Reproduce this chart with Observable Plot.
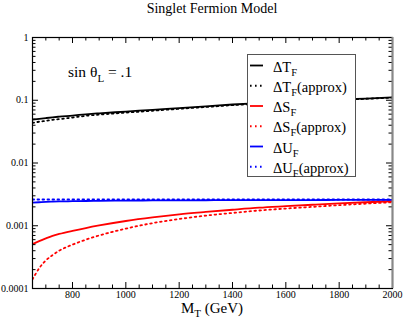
<!DOCTYPE html>
<html><head><meta charset="utf-8">
<script src="https://cdn.jsdelivr.net/npm/d3@7"></script>
<script src="https://cdn.jsdelivr.net/npm/@observablehq/plot@0.6"></script>
<style>body{margin:0;background:#fff} svg{display:block}</style>
</head><body><div id="chart"></div>
<script>
// ---- data ----
const massGrid = [650, 675, 700, 725, 750, 800, 850, 900, 1000, 1100, 1200, 1300, 1400, 1500, 1600, 1700, 1800, 1900, 2000];
const deltaT       = [0.049, 0.0505, 0.052, 0.0535, 0.0548, 0.057, 0.0597, 0.062, 0.066, 0.0705, 0.075, 0.080, 0.0855, 0.090, 0.094, 0.098, 0.102, 0.1065, 0.111];
const deltaTApprox = [0.0435, 0.0455, 0.047, 0.0488, 0.050, 0.053, 0.0565, 0.059, 0.0635, 0.068, 0.073, 0.078, 0.0835, 0.088, 0.0925, 0.097, 0.101, 0.1055, 0.110];
const deltaS       = [0.00051, 0.00057, 0.00063, 0.00069, 0.00074, 0.00083, 0.00092, 0.00101, 0.00119, 0.00136, 0.00152, 0.00166, 0.00180, 0.00194, 0.00205, 0.00216, 0.00227, 0.00237, 0.00246];
const deltaSApprox = [0.00014, 0.00021, 0.00028, 0.00034, 0.00040, 0.00050, 0.00060, 0.00070, 0.00090, 0.00110, 0.00128, 0.00145, 0.00160, 0.00175, 0.00188, 0.00200, 0.00213, 0.00225, 0.00237];
const deltaU       = [0.00234, 0.00237, 0.00240, 0.00242, 0.00244, 0.00246, 0.00248, 0.00250, 0.00252, 0.00253, 0.00254, 0.00255, 0.00256, 0.00256, 0.00257, 0.00257, 0.00258, 0.00258, 0.00259];
const deltaUApprox = [0.00262, 0.00262, 0.00262, 0.00262, 0.00262, 0.00262, 0.00262, 0.00262, 0.00262, 0.00262, 0.00262, 0.00262, 0.00262, 0.00262, 0.00262, 0.00262, 0.00262, 0.00262, 0.00262];

const xTicks = [800, 1000, 1200, 1400, 1600, 1800, 2000];
const xTickLabels = ["800", "1000", "1200", "1400", "1600", "1800", "2000"];
const yTicks = [0.0001, 0.001, 0.01, 0.1, 1];
const yTickLabels = ["0.0001", "0.001", "0.01", "0.1", "1"];
const xMinor = d3.range(650, 2001, 50).filter(v => !xTicks.includes(v));
const yMinor = [0.0001, 0.001, 0.01, 0.1].flatMap(d => [2,3,4,5,6,7,8,9].map(k => +(d * k).toPrecision(3)));

const seriesNames = ["ΔT_F", "ΔT_F(approx)", "ΔS_F", "ΔS_F(approx)", "ΔU_F", "ΔU_F(approx)"];
const seriesValues = [deltaT, deltaTApprox, deltaS, deltaSApprox, deltaU, deltaUApprox];
const seriesColors = ["black", "black", "#ff0000", "#ff0000", "#0000ff", "#0000ff"];
const seriesDotted = [false, true, false, true, false, true];

// ---- layout ----
const W = 403, H = 320, mt = 37, mr = 11, mb = 32, ml = 32;
const pw = W - ml - mr, ph = H - mt - mb;
const DOT = "1.6,3.4";

const rows = seriesNames.map((name, s) => massGrid.map((m, i) => ({series: name, m, v: seriesValues[s][i]}))).flat();

const lineMarks = seriesNames.map((name, s) =>
  Plot.line(rows.filter(r => r.series === name), {
    x: "m", y: "v", stroke: seriesColors[s], strokeWidth: 1.8,
    strokeDasharray: seriesDotted[s] ? DOT : null, curve: "monotone-x", clip: true
  }));

const xLab = new Map(xTicks.map((t, i) => [t, xTickLabels[i]]));
const yLab = new Map(yTicks.map((t, i) => [t, yTickLabels[i]]));

const plot = Plot.plot({
  width: W, height: H,
  marginTop: mt, marginRight: mr, marginBottom: mb, marginLeft: ml,
  style: {fontFamily: "'Liberation Serif', 'DejaVu Serif', serif", fontSize: "10px", background: "white", overflow: "visible"},
  x: {domain: [650, 2000], label: null},
  y: {type: "log", domain: [0.0001, 1], label: null},
  marks: [
    ...lineMarks,
    // inward ticks, bottom & top
    Plot.tickX(xTicks, {x: d => d, insetTop: ph - 6, stroke: "black"}),
    Plot.tickX(xTicks, {x: d => d, insetBottom: ph - 6, stroke: "black"}),
    Plot.tickX(xMinor, {x: d => d, insetTop: ph - 3.5, stroke: "black"}),
    Plot.tickX(xMinor, {x: d => d, insetBottom: ph - 3.5, stroke: "black"}),
    // inward ticks, left & right
    Plot.tickY(yTicks, {y: d => d, insetRight: pw - 6, stroke: "black"}),
    Plot.tickY(yTicks, {y: d => d, insetLeft: pw - 6, stroke: "black"}),
    Plot.tickY(yMinor, {y: d => d, insetRight: pw - 3.5, stroke: "black"}),
    Plot.tickY(yMinor, {y: d => d, insetLeft: pw - 3.5, stroke: "black"}),
    Plot.frame({stroke: "black", strokeWidth: 1.2}),
    Plot.ruleX([2000], {stroke: "#888", strokeWidth: 2}),
    Plot.axisX(xTicks, {anchor: "bottom", tickSize: 0, tickPadding: 2, tickFormat: d => xLab.get(d), fontSize: 10}),
    Plot.axisY(yTicks, {anchor: "left", tickSize: 0, tickPadding: 4, tickFormat: d => yLab.get(d), fontSize: 10})
  ]
});

const svg = d3.select(plot);
const serif = "'Liberation Serif', 'DejaVu Serif', serif";

// title
svg.append("text").attr("x", ml + pw / 2).attr("y", 13).attr("text-anchor", "middle")
  .style("font-family", serif).style("font-size", "14px").attr("fill", "black").text("Singlet Fermion Model");

// x label
const xl = svg.append("text").attr("x", ml + pw / 2).attr("y", 313).attr("text-anchor", "middle")
  .style("font-family", serif).style("font-size", "15px").attr("fill", "black");
xl.append("tspan").text("M");
xl.append("tspan").attr("dy", 4).style("font-size", "11px").text("T");
xl.append("tspan").attr("dy", -4).text(" (GeV)");

// annotation
const an = svg.append("text").attr("x", 68).attr("y", 77).attr("text-anchor", "start")
  .style("font-family", serif).style("font-size", "15.5px").attr("fill", "black");
an.append("tspan").text("sin θ");
an.append("tspan").attr("dy", 5).style("font-size", "11px").text("L");
an.append("tspan").attr("dy", -5).text(" = .1");

// legend
const lg = svg.append("g");
lg.append("rect").attr("x", 247.5).attr("y", 54.5).attr("width", 108).attr("height", 122)
  .attr("fill", "white").attr("stroke", "#555").attr("stroke-width", 1);
seriesNames.forEach((name, i) => {
  const y = 65.5 + i * 20.25;
  lg.append("line").attr("x1", 250).attr("x2", 263).attr("y1", y).attr("y2", y)
    .attr("stroke", seriesColors[i]).attr("stroke-width", 1.8)
    .attr("stroke-dasharray", seriesDotted[i] ? DOT : null);
  const [base, rest] = name.split("_");
  const sub = rest.slice(0, 1), tail = rest.slice(1);
  const t = lg.append("text").attr("x", 273).attr("y", y + 6).attr("text-anchor", "start")
    .style("font-family", serif).style("font-size", "14.5px").attr("fill", "black");
  t.append("tspan").text(base);
  t.append("tspan").attr("dy", 4).style("font-size", "10.5px").text(sub);
  if (tail) t.append("tspan").attr("dy", -4).text(tail);
});

document.getElementById("chart").appendChild(plot);
</script>
</body></html>
